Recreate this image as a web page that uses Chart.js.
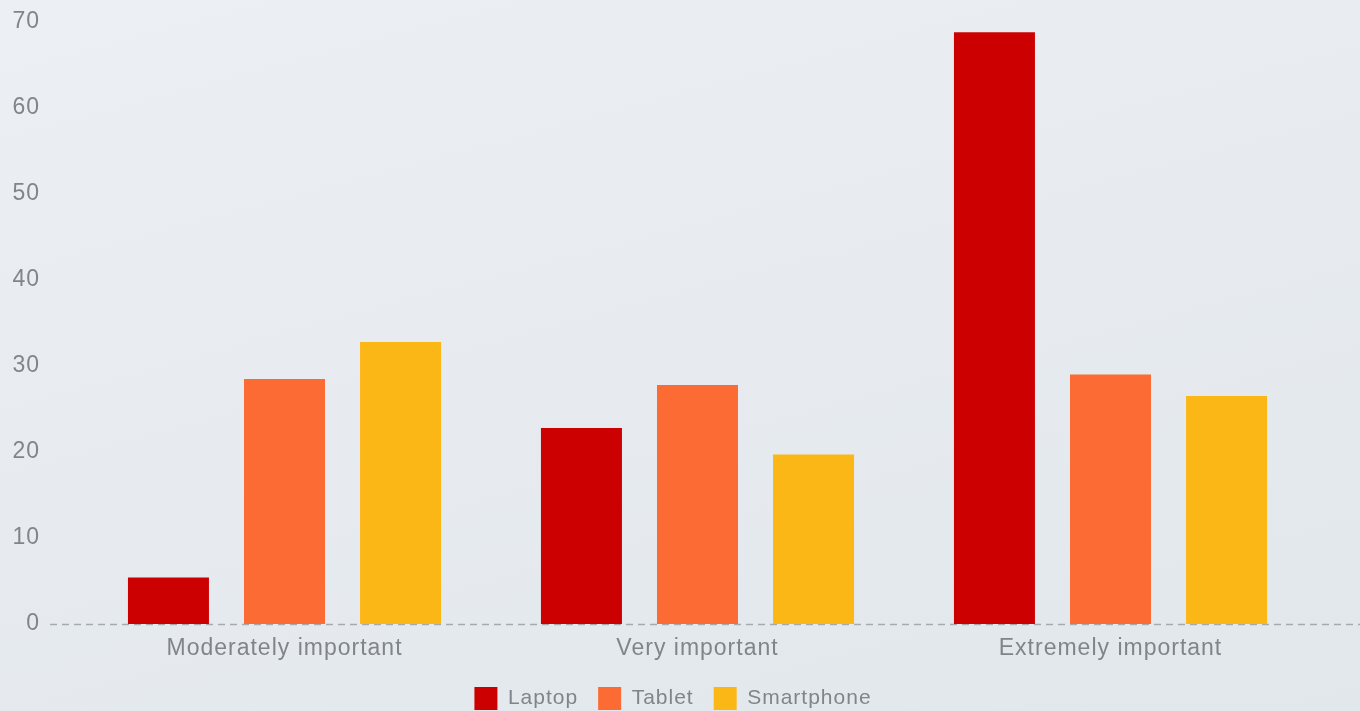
<!DOCTYPE html>
<html>
<head>
<meta charset="utf-8">
<script src="https://cdn.jsdelivr.net/npm/chart.js@4/dist/chart.umd.min.js"></script>
<style>
html,body{margin:0;padding:0;width:1360px;height:711px;overflow:hidden;
  background:linear-gradient(165deg,#eceff3 0%,#e7ebef 50%,#e1e7eb 100%);}
#wrap{position:relative;width:1360px;height:711px}
</style>
</head>
<body>
<div id="wrap"><canvas id="c"></canvas></div>
<script>
// importance ratings by device
var categories=['Moderately important','Very important','Extremely important'];
var laptop=[5.4,22.8,68.8];
var tablet=[28.5,27.8,29.0];
var smartphone=[32.8,19.7,26.5];
var yTicks=[0,10,20,30,40,50,60,70];

var PAL={laptop:'#cc0000',tablet:'#fc6b33',phone:'#fbb716',tick:'#80858b',zero:'#a4aab0'};

Chart.defaults.font.family="'Liberation Sans',Arial,sans-serif";
Chart.defaults.font.size=23;
Chart.defaults.color=PAL.tick;

// wider tracking like the original text
var spacing={
    id:'spacing',
    beforeLayout:function(ch){ch.ctx.letterSpacing='1px'},
    beforeDraw:function(ch){ch.ctx.letterSpacing='1px'}
};

// legend sits a bit right of the canvas centre in the original
var legendShift={
    id:'legendShift',
    afterLayout:function(ch){if(ch.legend){ch.legend.left+=29;ch.legend.right+=0}}
};

var zeroLine={
    id:'zeroLine',
    beforeDatasetsDraw:function(ch){
        var y=Math.round(ch.scales.y.getPixelForValue(0))+0.5,ctx=ch.ctx;
        ctx.save();ctx.beginPath();ctx.moveTo(50,y);ctx.lineTo(ch.width,y);
        ctx.lineWidth=1.5;ctx.strokeStyle=PAL.zero;ctx.setLineDash([7,5]);ctx.stroke();ctx.restore();
    }
};

function ds(label,data,col){return{label:label,data:data,backgroundColor:col,borderWidth:0,categoryPercentage:0.843,barPercentage:0.698}}

new Chart(document.getElementById('c'),{
    type:'bar',
    data:{labels:categories,datasets:[ds('Laptop',laptop,PAL.laptop),ds('Tablet',tablet,PAL.tablet),ds('Smartphone',smartphone,PAL.phone)]},
    options:{
        responsive:true,maintainAspectRatio:false,animation:false,
        layout:{padding:{top:22,right:43,left:0,bottom:-9}},
        plugins:{
            legend:{position:'bottom',labels:{boxWidth:23,boxHeight:23,padding:20,color:PAL.tick,font:{size:21}}},
            tooltip:{enabled:false}
        },
        scales:{
            x:{grid:{display:false,drawTicks:false},border:{display:false},
               afterFit:function(s){s.height=43},
               ticks:{padding:11,color:PAL.tick}},
            y:{min:0,max:70,grid:{display:false,drawTicks:false},border:{display:false},
               afterBuildTicks:function(s){s.ticks=yTicks.map(function(v){return{value:v}})},
               afterFit:function(s){s.width=78;s.paddingTop=12;s.paddingBottom=12},
               ticks:{padding:38,color:PAL.tick}}
        }
    },
    plugins:[spacing,legendShift,zeroLine]
});
</script>
</body>
</html>
